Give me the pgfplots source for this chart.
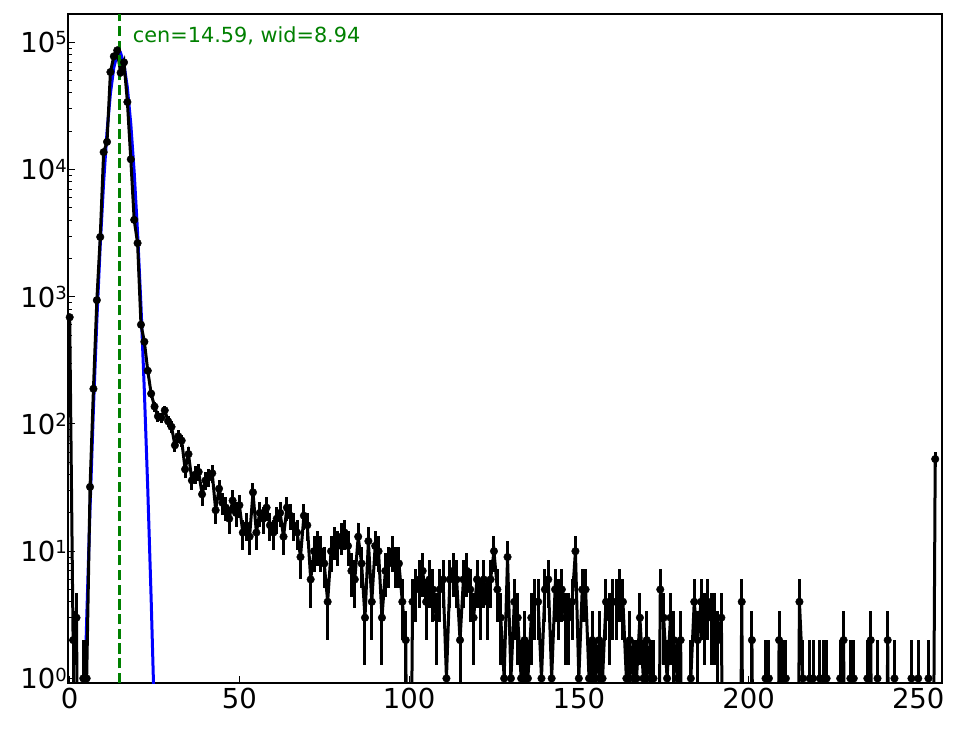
\documentclass[border=0pt]{standalone}
\usepackage{fontspec}
\setmainfont{DejaVu Sans}
\usepackage{pgfplots}
\pgfplotsset{compat=1.18}
\usepackage{pgfplotstable}
\definecolor{mplgreen}{HTML}{008000}
\newcommand\sups[1]{\raisebox{7.6pt}{\fontsize{18}{20}\selectfont #1}}

% counts per bin, bins 0..255
\pgfplotstableread[row sep=\\]{
n\\
690\\ 2\\ 3\\ 0\\ 1\\ 1\\ 32\\ 189\\ 940\\ 2950\\
13700\\ 16500\\ 58400\\ 77600\\ 86500\\ 57700\\ 69600\\ 33960\\ 12050\\ 4020\\
2640\\ 603\\ 443\\ 262\\ 173\\ 137\\ 115\\ 112\\ 128\\ 105\\
95\\ 68\\ 80\\ 74\\ 44\\ 58\\ 36\\ 40\\ 42\\ 28\\
36\\ 38\\ 41\\ 21\\ 31\\ 24\\ 22\\ 18\\ 25\\ 20\\
23\\ 14\\ 16\\ 13\\ 29\\ 14\\ 20\\ 18\\ 22\\ 16\\
14\\ 18\\ 20\\ 13\\ 22\\ 19\\ 16\\ 14\\ 9\\ 19\\
16\\ 6\\ 10\\ 11\\ 10\\ 8\\ 4\\ 10\\ 12\\ 11\\
13\\ 14\\ 11\\ 7\\ 6\\ 13\\ 8\\ 3\\ 12\\ 4\\
11\\ 10\\ 3\\ 7\\ 8\\ 10\\ 8\\ 8\\ 4\\ 2\\
0\\ 4\\ 5\\ 6\\ 7\\ 4\\ 6\\ 5\\ 3\\ 5\\
6\\ 1\\ 6\\ 7\\ 6\\ 2\\ 6\\ 7\\ 5\\ 3\\
6\\ 4\\ 6\\ 4\\ 6\\ 10\\ 5\\ 3\\ 1\\ 9\\
1\\ 4\\ 3\\ 1\\ 2\\ 1\\ 3\\ 4\\ 4\\ 1\\
5\\ 6\\ 1\\ 5\\ 4\\ 5\\ 3\\ 3\\ 4\\ 10\\
1\\ 5\\ 5\\ 1\\ 2\\ 1\\ 2\\ 1\\ 4\\ 3\\
4\\ 4\\ 5\\ 4\\ 1\\ 2\\ 1\\ 1\\ 3\\ 1\\
2\\ 1\\ 1\\ 0\\ 5\\ 3\\ 1\\ 3\\ 2\\ 1\\
2\\ 0\\ 0\\ 1\\ 4\\ 2\\ 4\\ 3\\ 4\\ 3\\
3\\ 2\\ 3\\ 0\\ 0\\ 0\\ 0\\ 0\\ 4\\ 0\\
0\\ 2\\ 0\\ 0\\ 0\\ 1\\ 1\\ 0\\ 0\\ 2\\
1\\ 1\\ 0\\ 0\\ 0\\ 4\\ 1\\ 0\\ 1\\ 1\\
0\\ 1\\ 1\\ 1\\ 0\\ 0\\ 0\\ 1\\ 2\\ 0\\
1\\ 1\\ 0\\ 0\\ 0\\ 1\\ 2\\ 0\\ 1\\ 0\\
0\\ 2\\ 0\\ 1\\ 0\\ 0\\ 0\\ 0\\ 1\\ 0\\
1\\ 0\\ 0\\ 1\\ 0\\ 53\\
}\counts

% Gaussian fit curve sampled at the bins
\pgfplotstableread{
x y
3 0.025
4 0.30
5 2.87
6 21.9
7 133.5
8 652
9 2549
10 7955
11 19873
12 39665
13 63311
14 80808
15 82437
16 67250
17 43865
18 22874
19 9542
20 3180
21 847
22 180
23 30.8
24 4.2
25 0.457
26 0.040
27 0.002
}\fit

\begin{document}
\begin{tikzpicture}
\useasboundingbox (-68pt,-46pt) rectangle (896pt,683pt);
\begin{axis}[
  at={(0pt,0pt)}, anchor=south west,
  scale only axis, width=874pt, height=669pt,
  ymode=log, xmin=-0.5, xmax=257, ymin=0.92, ymax=1.67e5,
  xtick={0,50,100,150,200,250},
  ytick={1,10,100,1000,10000,100000},
  yticklabels={10\sups{0},10\sups{1},10\sups{2},10\sups{3},10\sups{4},10\sups{5}},
  minor ytick={2,3,4,5,6,7,8,9,20,30,40,50,60,70,80,90,200,300,400,500,600,700,800,900,2000,3000,4000,5000,6000,7000,8000,9000,20000,30000,40000,50000,60000,70000,80000,90000},
  xtick pos=bottom, ytick pos=left, tick align=inside,
  major tick length=7pt, minor tick length=4pt,
  every tick/.style={black, line width=1pt},
  axis line style={line width=1.3pt, black},
  tick label style={font=\fontsize{27.5}{32}\selectfont},
  /pgf/number format/assume math mode=true,
  xticklabel style={inner sep=0pt, yshift=-5pt},
  yticklabel style={inner sep=0pt, xshift=-1pt},
  clip=true,
]
\addplot[blue, line width=3pt, no marks] table[x=x,y=y] {\fit};
\addplot[black, line width=3pt, mark=*, mark size=3.8pt,
  mark options={solid, fill=black, line width=0.4pt},
  error bars/.cd, y dir=both, y explicit,
  error bar style={line width=3pt, black}, error mark=none]
  table[x index=0, y index=0, x expr=\coordindex,
        y expr={max(\thisrow{n},0.001)},
        y error plus expr={sqrt(\thisrow{n})},
        y error minus expr={max(0,\thisrow{n}-max(\thisrow{n}-sqrt(\thisrow{n}),0.001))}] {\counts};
\addplot[mplgreen, line width=2.8pt, dash pattern=on 10.3pt off 4.4pt] coordinates {(14.59,0.92) (14.59,1.67e5)};
\node[anchor=base west, inner sep=0pt, text=mplgreen, font=\fontsize{20.8}{24}\selectfont] at (axis cs:18.59,100000) {cen=14.59, wid=8.94};
\end{axis}
\end{tikzpicture}
\end{document}
